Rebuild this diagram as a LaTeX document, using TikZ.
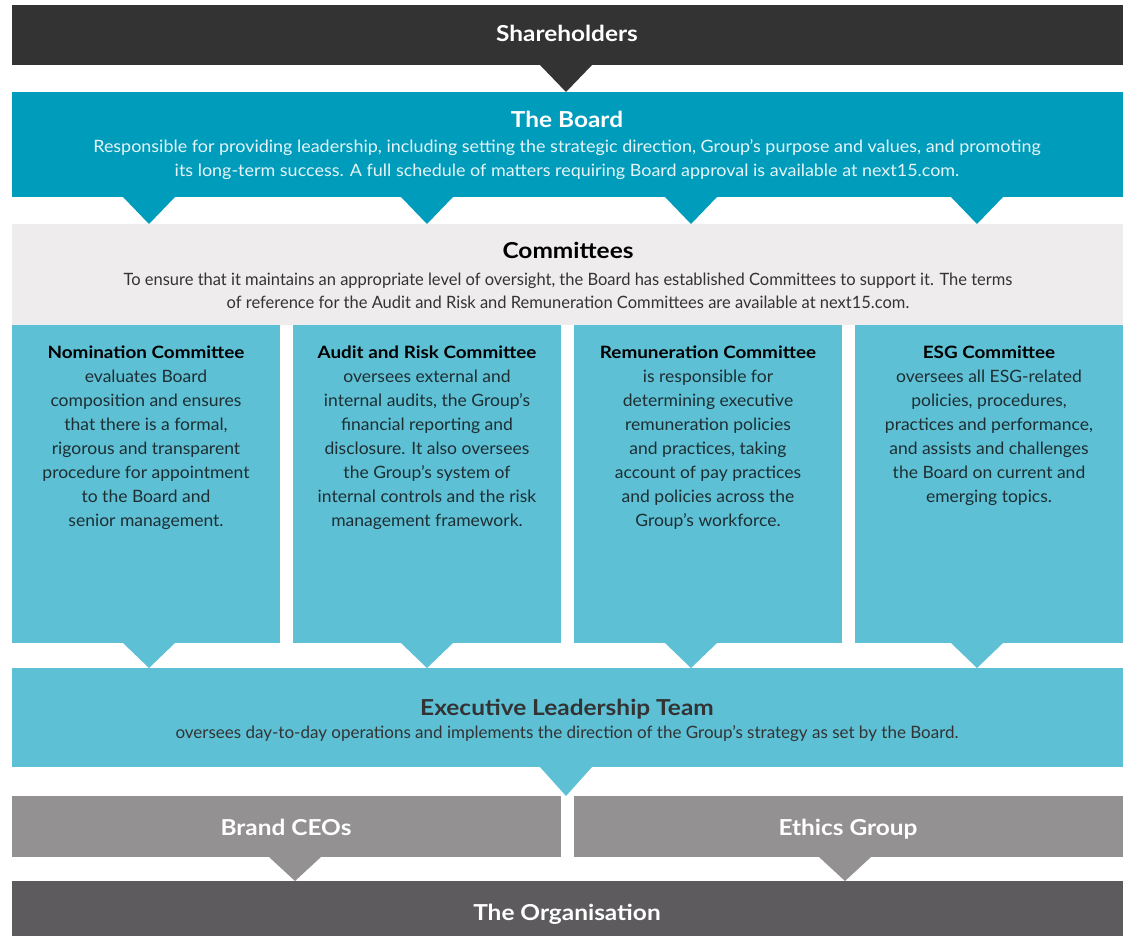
\documentclass[tikz,border=0pt]{standalone}
\usepackage{fontspec}
\setmainfont{Lato}
\newfontfamily\widefont{Lato}[FakeStretch=1.11]
\newfontfamily\semifont{Lato}[FakeStretch=1.055]
\newfontfamily\colfont{Lato}[FakeStretch=1.03]
\newfontfamily\narrowfont{Lato}[FakeStretch=0.97]
\usetikzlibrary{calc}
\definecolor{shc}{HTML}{333333}
\definecolor{boardc}{HTML}{009CBB}
\definecolor{comc}{HTML}{EEECED}
\definecolor{colc}{HTML}{5DC0D5}
\definecolor{brandc}{HTML}{949192}
\definecolor{orgc}{HTML}{5D5B5E}
\definecolor{bodyc}{HTML}{333333}
\definecolor{coltxt}{HTML}{1E2F33}
\definecolor{boardtxt}{HTML}{E6F5F8}
\newcommand\ptr[4]{\fill[#1] (#4-26,0 |- #2.south) -- (#4+26,0 |- #2.south) -- (#4,0 |- #3.north) -- cycle;}
\newcommand\ctitle[1]{{\widefont\bfseries\color{black}#1}}
\begin{document}
\begin{tikzpicture}[x=1pt,y=-1pt,
  box/.style={inner sep=0pt, outer sep=0pt, anchor=north west, draw=none},
  ttl/.style={inner sep=0pt, anchor=base, font=\widefont\fontsize{22}{26}\selectfont\bfseries},
  body/.style={inner sep=0pt, anchor=base, align=center, font=\fontsize{17}{24}\selectfont},
  cbody/.style={inner sep=0pt, anchor=base, align=center, font=\colfont\fontsize{17}{24}\selectfont, text=coltxt}]
\useasboundingbox (0,0) rectangle (1126,936);
% boxes
\node[box, fill=shc, minimum width=1111pt, minimum height=60pt] (sh) at (12,5) {};
\node[box, fill=boardc, minimum width=1111pt, minimum height=105pt] (board) at (12,92) {};
\node[box, fill=comc, minimum width=1111pt, minimum height=101pt] (com) at (12,224) {};
\node[box, fill=colc, minimum width=268pt, minimum height=318pt] (c1) at (12,325) {};
\node[box, fill=colc, minimum width=268pt, minimum height=318pt] (c2) at (293,325) {};
\node[box, fill=colc, minimum width=268pt, minimum height=318pt] (c3) at (574,325) {};
\node[box, fill=colc, minimum width=268pt, minimum height=318pt] (c4) at (855,325) {};
\node[box, fill=colc, minimum width=1111pt, minimum height=99pt] (elt) at (12,668) {};
\node[box, fill=brandc, minimum width=549pt, minimum height=61pt] (brand) at (12,796) {};
\node[box, fill=brandc, minimum width=549pt, minimum height=61pt] (eth) at (574,796) {};
\node[box, fill=orgc, minimum width=1111pt, minimum height=55pt] (org) at (12,881) {};
% pointers
\ptr{shc}{sh}{board}{566}
\ptr{boardc}{board}{com}{149}
\ptr{boardc}{board}{com}{427}
\ptr{boardc}{board}{com}{691}
\ptr{boardc}{board}{com}{977}
\ptr{colc}{c1}{elt}{149}
\ptr{colc}{c2}{elt}{427}
\ptr{colc}{c3}{elt}{691}
\ptr{colc}{c4}{elt}{977}
\ptr{colc}{elt}{brand}{566}
\ptr{brandc}{brand}{org}{295}
\ptr{brandc}{eth}{org}{845}
% texts (multi-line nodes: base = last line)
\node[ttl, text=white] (tsh) at (567,42) {Shareholders};
\node[ttl, text=white] (tboard) at (567,128) {The Board};
\node[body, text=boardtxt, font=\semifont\fontsize{17}{24}\selectfont] (dboard) at (567,176) {Responsible for providing leadership, including setting the strategic direction, Group’s purpose and values, and promoting\\its long-term success. A full schedule of matters requiring Board approval is available at next15.com.};
\node[ttl, text=black] (tcom) at (568,258) {Committees};
\node[body, text=bodyc, font=\narrowfont\fontsize{17}{23}\selectfont] (dcom) at (568,308) {To ensure that it maintains an appropriate level of oversight, the Board has established Committees to support it. The terms\\of reference for the Audit and Risk and Remuneration Committees are available at next15.com.};
\node[cbody] (tc1) at (146,526) {\ctitle{Nomination Committee}\\evaluates Board\\composition and ensures\\that there is a formal,\\rigorous and transparent\\procedure for appointment\\to the Board and\\senior management.};
\node[cbody] (tc2) at (427,526) {\ctitle{Audit and Risk Committee}\\oversees external and\\internal audits, the Group’s\\financial reporting and\\disclosure. It also oversees\\the Group’s system of\\internal controls and the risk\\management framework.};
\node[cbody] (tc3) at (708,526) {\ctitle{Remuneration Committee}\\is responsible for\\determining executive\\remuneration policies\\and practices, taking\\account of pay practices\\and policies across the\\Group’s workforce.};
\node[cbody] (tc4) at (989,502) {\ctitle{ESG Committee}\\oversees all ESG-related\\policies, procedures,\\practices and performance,\\and assists and challenges\\the Board on current and\\emerging topics.};
\node[ttl, text=bodyc] (telt) at (567,715) {Executive Leadership Team};
\node[body, text=bodyc] (delt) at (567,738) {oversees day-to-day operations and implements the direction of the Group’s strategy as set by the Board.};
\node[ttl, text=white] (tbrand) at (286,835) {Brand CEOs};
\node[ttl, text=white] (teth) at (848,835) {Ethics Group};
\node[ttl, text=white] (torg) at (567,920) {The Organisation};
\end{tikzpicture}
\end{document}
